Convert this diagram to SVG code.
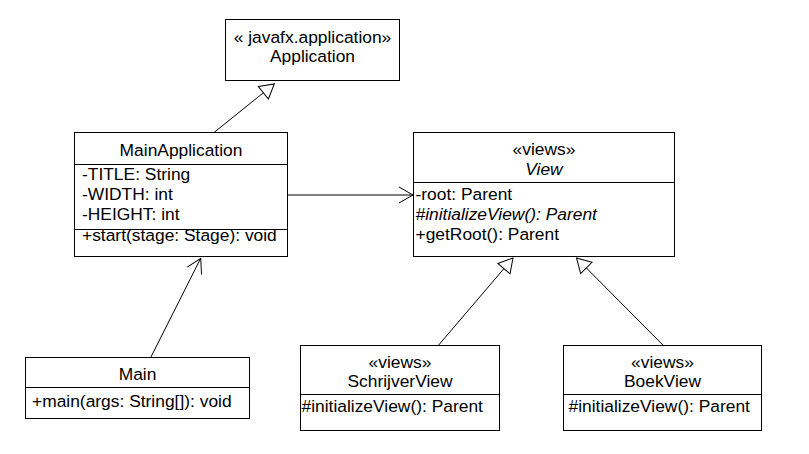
<svg xmlns="http://www.w3.org/2000/svg" width="809" height="454" viewBox="0 0 809 454">
<style>
  .box { fill: #ffffff; stroke: #000000; stroke-width: 1; }
  .div { stroke: #000000; stroke-width: 1; fill: none; }
  .conn { stroke: #000000; stroke-width: 1; fill: none; }
  text { font-family: "Liberation Sans", Arial, sans-serif; font-size: 17.4px; fill: #000000; }
  .c { text-anchor: middle; }
  .it { font-style: italic; }
</style>
<defs>
  <marker id="tri" markerUnits="userSpaceOnUse" markerWidth="16" markerHeight="18" refX="14" refY="8" orient="auto" overflow="visible">
    <path d="M0,0 L14,8 L0,16 Z" fill="#ffffff" stroke="#000000" stroke-width="1"/>
  </marker>
  <marker id="open" markerUnits="userSpaceOnUse" markerWidth="16" markerHeight="18" refX="14" refY="8" orient="auto" overflow="visible">
    <path d="M0,0 L14,8 L0,16" fill="none" stroke="#000000" stroke-width="1"/>
  </marker>
</defs>
<rect width="809" height="454" fill="#ffffff"/>

<g id="Application">
  <rect class="box" x="225.5" y="19.5" width="174" height="61"/>
  <text class="c" x="312.5" y="43">« javafx.application»</text>
  <text class="c" x="312.5" y="62">Application</text>
</g>

<g id="MainApplication">
  <rect class="box" x="74.5" y="132.5" width="213" height="124"/>
  <line class="div" x1="74.5" y1="164.5" x2="287.5" y2="164.5"/>
  <line class="div" x1="74.5" y1="229.5" x2="287.5" y2="229.5"/>
  <text class="c" x="181" y="156">MainApplication</text>
  <text x="82" y="180">-TITLE: String</text>
  <text x="82" y="200">-WIDTH: int</text>
  <text x="82" y="220">-HEIGHT: int</text>
  <text x="82" y="241">+start(stage: Stage): void</text>
</g>

<g id="View">
  <rect class="box" x="413.5" y="132.5" width="261" height="124"/>
  <line class="div" x1="413.5" y1="182.5" x2="674.5" y2="182.5"/>
  <text class="c" x="544" y="154.5">«views»</text>
  <text class="c it" x="544" y="174.5">View</text>
  <text x="415.5" y="200">-root: Parent</text>
  <text class="it" x="415.5" y="220">#initializeView(): Parent</text>
  <text x="415.5" y="240">+getRoot(): Parent</text>
</g>

<g id="Main">
  <rect class="box" x="25.5" y="357.5" width="224" height="61"/>
  <line class="div" x1="25.5" y1="387.5" x2="249.5" y2="387.5"/>
  <text class="c" x="137.5" y="380">Main</text>
  <text x="32" y="406.5">+main(args: String[]): void</text>
</g>

<g id="SchrijverView">
  <rect class="box" x="300.5" y="345.5" width="199" height="85"/>
  <line class="div" x1="300.5" y1="394.5" x2="499.5" y2="394.5"/>
  <text class="c" x="400" y="368">«views»</text>
  <text class="c" x="400" y="387">SchrijverView</text>
  <text x="301.5" y="412">#initializeView(): Parent</text>
</g>

<g id="BoekView">
  <rect class="box" x="563.5" y="345.5" width="198" height="85"/>
  <line class="div" x1="563.5" y1="394.5" x2="761.5" y2="394.5"/>
  <text class="c" x="662.5" y="368">«views»</text>
  <text class="c" x="662.5" y="387">BoekView</text>
  <text x="568.5" y="412">#initializeView(): Parent</text>
</g>

<g id="connectors">
  <line class="conn" x1="214" y1="132.5" x2="274.3" y2="84" marker-end="url(#tri)"/>
  <line class="conn" x1="287.5" y1="195" x2="413" y2="195" marker-end="url(#open)"/>
  <line class="conn" x1="150.7" y1="357.5" x2="200.7" y2="258.3" marker-end="url(#open)"/>
  <line class="conn" x1="438.3" y1="345.5" x2="513" y2="258" marker-end="url(#tri)"/>
  <line class="conn" x1="663.3" y1="345.5" x2="576.5" y2="258" marker-end="url(#tri)"/>
</g>
</svg>
